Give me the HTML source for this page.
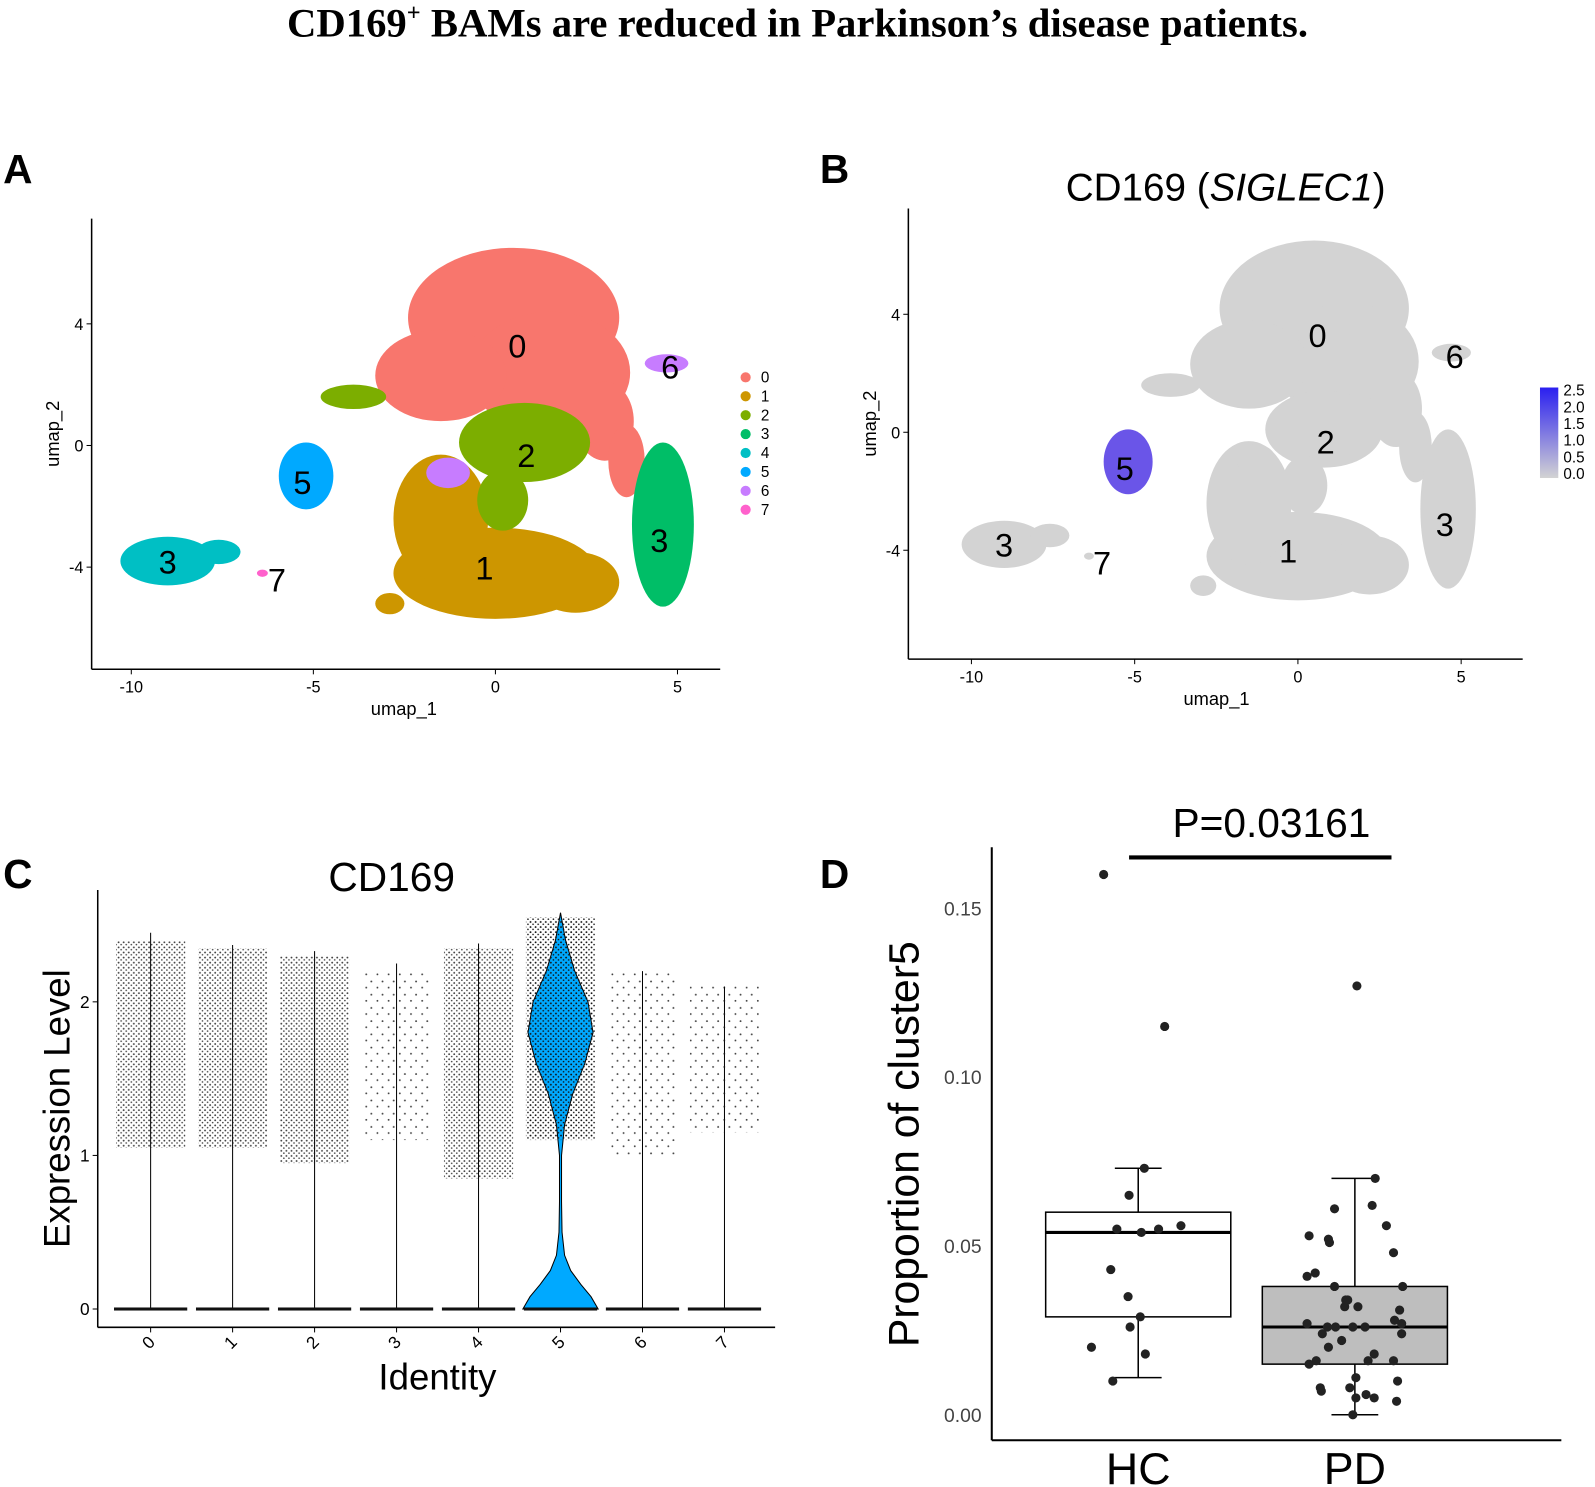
<!DOCTYPE html>
<html><head><meta charset="utf-8"><style>
html,body{margin:0;padding:0;background:#fff}
svg{display:block;font-family:"Liberation Sans",sans-serif}
</style></head><body>
<svg id="fig" width="1595" height="1487" viewBox="0 0 1568 1462" xmlns="http://www.w3.org/2000/svg">
<defs>
<pattern id="dense" width="5" height="5" patternUnits="userSpaceOnUse"><rect width="5" height="5" fill="none"/><circle cx="1.5" cy="1.5" r="0.9" fill="#111"/><circle cx="4" cy="3.8" r="0.8" fill="#111"/></pattern>
<pattern id="sparse" width="11" height="13" patternUnits="userSpaceOnUse"><circle cx="2" cy="3" r="0.9" fill="#111"/><circle cx="8" cy="9" r="0.9" fill="#111"/></pattern>
<linearGradient id="cbar" x1="0" y1="1" x2="0" y2="0"><stop offset="0" stop-color="#d3d3d3"/><stop offset="1" stop-color="#2a1ff0"/></linearGradient>
</defs>
<text x="784" y="36" text-anchor="middle" font-family="Liberation Serif" font-weight="bold" font-size="40">CD169<tspan font-size="24" dy="-16">+</tspan><tspan dy="16"> BAMs are reduced in Parkinson’s disease patients.</tspan></text>
<text x="3" y="180" font-weight="bold" font-size="40">A</text>
<text x="806" y="180" font-weight="bold" font-size="40">B</text>
<text x="3" y="873" font-weight="bold" font-size="40">C</text>
<text x="806" y="873" font-weight="bold" font-size="40">D</text>
<g id="A"></g>
<g id="B"></g>
<g id="C"></g>
<g id="D"></g>
</svg>
<script>
// ---- UMAP cluster data (ellipses in umap coords) ----
const clusterIds = [1,0,3,2,6,5,4,7];
const clusterColors = {0:"#F8766D",1:"#CD9600",2:"#7CAE00",3:"#00BE67",4:"#00BFC4",5:"#00A9FF",6:"#C77CFF",7:"#FF61CC"};
const clusterShapes = {
 0:[[0.5,4.2,2.9,2.3],[1.5,2.4,2.2,2.0],[-1.5,2.3,1.8,1.5],[3.0,0.8,0.8,1.3],[3.6,-0.5,0.5,1.2]],
 1:[[0,-4.2,2.8,1.5],[-1.5,-2.4,1.3,2.1],[2.2,-4.5,1.2,1.0],[-2.9,-5.2,0.4,0.35]],
 2:[[0.8,0.1,1.8,1.3],[0.2,-1.8,0.7,1.0],[-3.9,1.6,0.9,0.4]],
 3:[[4.6,-2.6,0.85,2.7]],
 4:[[-9.0,-3.8,1.3,0.8],[-7.6,-3.5,0.6,0.4]],
 5:[[-5.2,-1.0,0.75,1.1]],
 6:[[4.7,2.7,0.6,0.3],[-1.3,-0.9,0.6,0.5]],
 7:[[-6.4,-4.2,0.15,0.12]]
};
const clusterLabels = [["0",0.6,3.3],["6",4.8,2.6],["2",0.85,-0.3],["5",-5.3,-1.2],["3",-9.0,-3.8],["7",-6.0,-4.4],["1",-0.3,-4.0],["3",4.5,-3.1]];
const umapXTicks = [-10,-5,0,5];
const umapYTicks = [4,0,-4];
const legendLabels = ["0","1","2","3","4","5","6","7"];
const cbarTicks = ["2.5","2.0","1.5","1.0","0.5","0.0"];
// ---- violin data ----
const violinCats = ["0","1","2","3","4","5","6","7"];
const violinMax = [2.45,2.37,2.33,2.25,2.38,2.58,2.2,2.1];
const jitterLo = [1.05,1.05,0.95,1.1,0.85,1.1,1.0,1.15];
const jitterHi = [2.4,2.35,2.3,2.2,2.35,2.55,2.2,2.1];
const jitterDense = [1,1,1,0,1,1,0,0];
const v5Levels = [0,0.08,0.16,0.25,0.35,0.5,0.7,1.0,1.2,1.4,1.6,1.8,2.0,2.2,2.4,2.58];
const v5Width = [37,30,20,10,4,1.5,1,1,4,12,24,32,27,14,5,0];
const violinYTicks = [0,1,2];
// ---- boxplot data ----
const groups = ["HC","PD"];
const hcValues = [0.160,0.115,0.073,0.065,0.055,0.054,0.055,0.056,0.043,0.035,0.029,0.026,0.020,0.018,0.010];
const hcJitter = [-34,26,6,-9,-21,3,20,42,-27,-10,2,-8,-46,7,-25];
const pdValues = [0.127,0.070,0.061,0.062,0.056,0.053,0.052,0.051,0.048,0.041,0.042,0.038,0.038,0.034,0.034,0.032,0.032,0.031,0.027,0.028,0.027,0.026,0.026,0.026,0.026,0.024,0.024,0.022,0.020,0.018,0.016,0.016,0.015,0.016,0.011,0.010,0.008,0.007,0.008,0.006,0.005,0.005,0.004,0.000];
const pdJitter = [2,20,-20,17,31,-45,-26,-25,38,-47,-39,-20,47,-9,-7,-10,3,44,-47,39,46,-27,-19,-2,10,-32,46,-13,-26,19,13,-38,-45,38,1,42,-34,-33,-5,11,1,19,41,-2];
const hcBox = {lo:0.011,q1:0.029,med:0.054,q3:0.060,hi:0.073};
const pdBox = {lo:0.000,q1:0.015,med:0.026,q3:0.038,hi:0.070};
const dYTicks = [0,0.05,0.10,0.15];
const dYTickLabels = ["0.00","0.05","0.10","0.15"];

const NS="http://www.w3.org/2000/svg";
function mk(parent,tag,attrs,txt){const e=document.createElementNS(NS,tag);for(const k in attrs)e.setAttribute(k,attrs[k]);if(txt!==undefined)e.textContent=txt;parent.appendChild(e);return e;}

// ===== Panel A =====
const A=document.getElementById('A');
const xA=u=>487+35.8*u, yA=v=>438-29.9*v;
function drawUmap(g,xs,ys,colorFn,ax){
  clusterIds.forEach(id=>{
    clusterShapes[id].forEach(s=>{
      const e=mk(g,'ellipse',{cx:xs(s[0]),cy:ys(s[1]),rx:Math.abs(xs(s[2])-xs(0)),ry:Math.abs(ys(s[3])-ys(0)),fill:colorFn(id)});
      
      
    });
  });
  clusterLabels.forEach(l=>{
    const t=mk(g,'text',{x:xs(l[1]),y:ys(l[2])+12,'text-anchor':'middle','font-size':32},l[0]);
    
    
  });
  mk(g,'line',{x1:ax.x0,y1:ax.top,x2:ax.x0,y2:ax.bot,stroke:'#000','stroke-width':1.5});
  mk(g,'line',{x1:ax.x0,y1:ax.bot,x2:ax.right,y2:ax.bot,stroke:'#000','stroke-width':1.5});
  umapXTicks.forEach(t=>{mk(g,'line',{x1:xs(t),y1:ax.bot,x2:xs(t),y2:ax.bot+5,stroke:'#000'});
    const e=mk(g,'text',{x:xs(t),y:ax.bot+23,'text-anchor':'middle','font-size':16},String(t));
    });
  umapYTicks.forEach(t=>{mk(g,'line',{x1:ax.x0-5,y1:ys(t),x2:ax.x0,y2:ys(t),stroke:'#000'});
    const e=mk(g,'text',{x:ax.x0-8,y:ys(t)+6,'text-anchor':'end','font-size':16},String(t));
    });
  const xl=mk(g,'text',{x:ax.xlabX,y:ax.bot+45,'text-anchor':'middle','font-size':18},'umap_1');
  
  const yl=mk(g,'text',{x:0,y:0,'text-anchor':'middle','font-size':18,transform:`translate(${ax.x0-32},${(ax.top+ax.bot)/2-10}) rotate(-90)`},'umap_2');
  
}
drawUmap(A,xA,yA,id=>clusterColors[id],{x0:90,top:215,bot:658,right:708,xlabX:397});
legendLabels.forEach((l,i)=>{
  const y=371+18.6*i;
  const c=mk(A,'circle',{cx:733,cy:y,r:5,fill:clusterColors[+l]});
  
  const t=mk(A,'text',{x:748,y:y+5,'font-size':15},l);
  
});

// ===== Panel B =====
const B=document.getElementById('B');
const xB=u=>1276+32.1*u, yB=v=>425-29*v;
drawUmap(B,xB,yB,id=>id===5?'#6a55e8':'#d3d3d3',{x0:893,top:205,bot:648,right:1497,xlabX:1196});
const bt=mk(B,'text',{x:1205,y:197,'text-anchor':'middle','font-size':38});
bt.innerHTML='CD169 (<tspan font-style="italic">SIGLEC1</tspan>)';

mk(B,'rect',{x:1514,y:381,width:18,height:89,fill:'url(#cbar)'});
cbarTicks.forEach((l,i)=>{const t=mk(B,'text',{x:1537,y:389+16.4*i,'font-size':15},l);
  });

// ===== Panel C =====
const C=document.getElementById('C');
const yC=v=>1287-151*v, xC=i=>148+80.6*i;
mk(C,'line',{x1:96,y1:875,x2:96,y2:1305,stroke:'#000','stroke-width':1.5});
mk(C,'line',{x1:96,y1:1305,x2:762,y2:1305,stroke:'#000','stroke-width':1.5});
violinCats.forEach((c,i)=>{
  const x=xC(i);
  if(i===5){
    const right=v5Levels.map((v,k)=>`${x+v5Width[k]},${yC(v)}`);
    const left=v5Levels.map((v,k)=>`${x-v5Width[k]},${yC(v)}`).reverse();
    const p=mk(C,'path',{d:'M'+right.join(' L')+' L'+left.join(' L')+'Z',fill:'#00A9FF',stroke:'#000','stroke-width':1});
    
  } else {
    const l=mk(C,'line',{x1:x,y1:yC(0),x2:x,y2:yC(violinMax[i]),stroke:'#000','stroke-width':1});
    
  }
  const r=mk(C,'rect',{x:x-34,y:yC(jitterHi[i]),width:68,height:yC(jitterLo[i])-yC(jitterHi[i]),fill:jitterDense[i]?'url(#dense)':'url(#sparse)',opacity:i===5?1:0.8});
  
  mk(C,'rect',{x:x-36,y:yC(0)-1.5,width:72,height:3,fill:'#111'});
  mk(C,'line',{x1:x,y1:1305,x2:x,y2:1310,stroke:'#000'});
  const t=mk(C,'text',{x:0,y:0,'text-anchor':'middle','font-size':17,transform:`translate(${x+2},${1324}) rotate(-45)`},c);
  
});
violinYTicks.forEach(t=>{mk(C,'line',{x1:91,y1:yC(t),x2:96,y2:yC(t),stroke:'#000'});
  const e=mk(C,'text',{x:88,y:yC(t)+6,'text-anchor':'end','font-size':17},String(t));
  });
[['CD169',385,876,40,'violin-title'],['Identity',430,1366,36,'x-axis-title']].forEach(a=>{
  const t=mk(C,'text',{x:a[1],y:a[2],'text-anchor':'middle','font-size':a[3]},a[0]);
  });
const cyl=mk(C,'text',{x:0,y:0,'text-anchor':'middle','font-size':36,transform:'translate(68,1090) rotate(-90)'},'Expression Level');


// ===== Panel D =====
const D=document.getElementById('D');
const yD=v=>1391-3320*v;
const gx={HC:1119,PD:1332};
mk(D,'line',{x1:975,y1:833,x2:975,y2:1416,stroke:'#000','stroke-width':2});
mk(D,'line',{x1:975,y1:1416,x2:1535,y2:1416,stroke:'#000','stroke-width':2});
dYTicks.forEach((t,i)=>{const e=mk(D,'text',{x:965,y:yD(t)+7,'text-anchor':'end','font-size':19,fill:'#444'},dYTickLabels[i]);
  });
[[hcBox,'HC','#fff'],[pdBox,'PD','#bebebe']].forEach(([b,g,f])=>{
  const x=gx[g],hw=91;
  mk(D,'line',{x1:x,y1:yD(b.lo),x2:x,y2:yD(b.hi),stroke:'#000','stroke-width':1.5});
  [b.lo,b.hi].forEach(v=>mk(D,'line',{x1:x-23,y1:yD(v),x2:x+23,y2:yD(v),stroke:'#000','stroke-width':1.5}));
  const r=mk(D,'rect',{x:x-hw,y:yD(b.q3),width:2*hw,height:yD(b.q1)-yD(b.q3),fill:f,stroke:'#000','stroke-width':1.5});
  
  mk(D,'line',{x1:x-hw,y1:yD(b.med),x2:x+hw,y2:yD(b.med),stroke:'#000','stroke-width':3});
  const t=mk(D,'text',{x:x,y:1459,'text-anchor':'middle','font-size':44},g);
  
});
hcValues.forEach((v,i)=>{const c=mk(D,'circle',{cx:gx.HC+hcJitter[i],cy:yD(v),r:4.5,fill:'#222'});
  });
pdValues.forEach((v,i)=>{const c=mk(D,'circle',{cx:gx.PD+pdJitter[i],cy:yD(v),r:4.5,fill:'#222'});
  });
mk(D,'line',{x1:1110,y1:843,x2:1368,y2:843,stroke:'#000','stroke-width':4});
const pv=mk(D,'text',{x:1250,y:823,'text-anchor':'middle','font-size':40},'P=0.03161');

const dyl=mk(D,'text',{x:0,y:0,'text-anchor':'middle','font-size':42,transform:'translate(903,1125) rotate(-90)'},'Proportion of cluster5');

</script>
</body></html>
